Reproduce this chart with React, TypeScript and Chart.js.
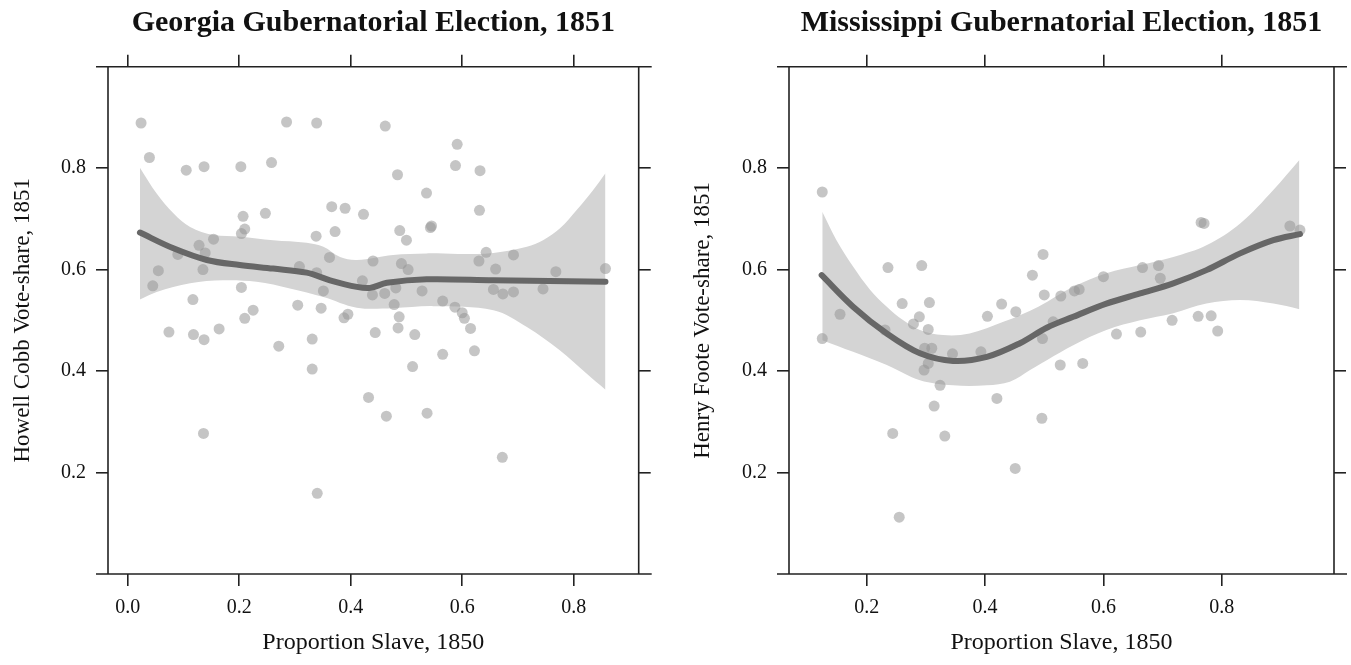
import React, { useEffect, useRef } from "react";
import { Chart, registerables } from "chart.js";

Chart.register(...registerables);

// ---------- Georgia data ----------
const gaTitle = "Georgia Gubernatorial Election, 1851";
const gaYLabel = "Howell Cobb Vote-share, 1851";
const gaX = [0.024,0.039,0.105,0.137,0.203,0.258,0.285,0.339,0.366,0.390,0.423,0.207,0.247,0.210,0.204,0.154,0.128,0.139,0.090,0.055,0.135,0.045,0.204,0.117,0.338,0.372,0.362,0.308,0.339,0.351,0.421,0.305,0.347,0.388,0.395,0.225,0.210,0.440,0.074,0.118,0.137,0.164,0.271,0.331,0.331,0.432,0.136,0.340,0.462,0.591,0.588,0.632,0.484,0.536,0.631,0.488,0.500,0.543,0.545,0.643,0.692,0.491,0.503,0.630,0.660,0.768,0.857,0.481,0.439,0.461,0.528,0.656,0.673,0.692,0.745,0.478,0.565,0.587,0.600,0.604,0.487,0.615,0.485,0.444,0.515,0.622,0.565,0.511,0.464,0.537,0.672];
const gaY = [0.889,0.821,0.796,0.803,0.803,0.811,0.891,0.889,0.724,0.721,0.709,0.705,0.711,0.680,0.671,0.660,0.648,0.633,0.630,0.598,0.600,0.568,0.565,0.541,0.666,0.675,0.624,0.606,0.594,0.558,0.578,0.530,0.524,0.505,0.512,0.520,0.504,0.617,0.477,0.472,0.462,0.483,0.449,0.463,0.404,0.348,0.277,0.159,0.883,0.847,0.805,0.795,0.787,0.751,0.717,0.677,0.658,0.683,0.686,0.634,0.629,0.612,0.600,0.617,0.601,0.596,0.602,0.564,0.550,0.553,0.558,0.561,0.552,0.556,0.562,0.531,0.538,0.526,0.515,0.504,0.507,0.484,0.485,0.476,0.472,0.440,0.433,0.409,0.311,0.317,0.230];
const gaFitX = [0.022,0.082,0.142,0.201,0.261,0.321,0.363,0.411,0.435,0.465,0.536,0.656,0.857];
const gaFitY = [0.673,0.642,0.619,0.609,0.602,0.594,0.579,0.566,0.564,0.574,0.581,0.579,0.576];
const gaUpX = [0.022,0.052,0.082,0.112,0.154,0.201,0.261,0.321,0.351,0.381,0.411,0.476,0.536,0.596,0.656,0.716,0.745,0.775,0.805,0.835,0.857];
const gaUpY = [0.801,0.750,0.711,0.684,0.668,0.665,0.658,0.653,0.645,0.625,0.619,0.629,0.632,0.631,0.633,0.645,0.658,0.681,0.717,0.757,0.790];
const gaLoX = [0.022,0.052,0.112,0.171,0.231,0.291,0.351,0.411,0.476,0.548,0.656,0.716,0.775,0.823,0.857];
const gaLoY = [0.541,0.556,0.573,0.579,0.576,0.563,0.546,0.525,0.524,0.528,0.520,0.487,0.441,0.395,0.363];
const gaXTicks = [0.0, 0.2, 0.4, 0.6, 0.8];
const gaXMin = -0.0353;
const gaXMax = 0.9166;

// ---------- Mississippi data ----------
const msTitle = "Mississippi Gubernatorial Election, 1851";
const msYLabel = "Henry Foote Vote-share, 1851";
const msX = [0.125,0.125,0.155,0.236,0.293,0.260,0.306,0.289,0.279,0.231,0.304,0.298,0.310,0.304,0.297,0.345,0.393,0.324,0.314,0.420,0.244,0.332,0.451,0.404,0.428,0.452,0.480,0.498,0.500,0.497,0.496,0.255,0.515,0.528,0.551,0.559,0.600,0.666,0.693,0.696,0.765,0.770,0.915,0.932,0.527,0.565,0.622,0.663,0.716,0.760,0.782,0.793];
const msY = [0.753,0.464,0.512,0.604,0.608,0.533,0.535,0.507,0.493,0.481,0.482,0.445,0.445,0.415,0.402,0.434,0.438,0.372,0.331,0.346,0.277,0.272,0.208,0.508,0.532,0.517,0.589,0.630,0.550,0.464,0.307,0.112,0.497,0.548,0.558,0.561,0.586,0.604,0.608,0.583,0.693,0.691,0.686,0.678,0.412,0.415,0.473,0.477,0.500,0.508,0.509,0.479];
const msFitX = [0.124,0.177,0.234,0.290,0.346,0.403,0.459,0.505,0.549,0.605,0.662,0.718,0.774,0.831,0.887,0.932];
const msFitY = [0.589,0.527,0.474,0.435,0.420,0.428,0.455,0.486,0.507,0.533,0.553,0.573,0.599,0.632,0.658,0.670];
const msUpX = [0.125,0.149,0.177,0.206,0.234,0.262,0.290,0.329,0.374,0.431,0.490,0.549,0.605,0.662,0.718,0.774,0.831,0.887,0.931];
const msUpY = [0.714,0.658,0.606,0.560,0.527,0.500,0.481,0.471,0.474,0.497,0.527,0.566,0.593,0.609,0.625,0.648,0.691,0.757,0.816];
const msLoX = [0.125,0.177,0.234,0.290,0.346,0.403,0.442,0.476,0.505,0.549,0.605,0.662,0.718,0.774,0.831,0.887,0.931];
const msLoY = [0.461,0.438,0.412,0.382,0.372,0.372,0.379,0.402,0.422,0.451,0.481,0.500,0.514,0.533,0.540,0.533,0.522];
const msXTicks = [0.2, 0.4, 0.6, 0.8];
const msXMin = 0.0688;
const msXMax = 0.9895;

const xLabel = "Proportion Slave, 1850";
const yTicks = [0.2, 0.4, 0.6, 0.8];
const yMin = 0;
const yMax = 1;

const FONT = "'Liberation Serif', 'Times New Roman', serif";
const zip = (xs: number[], ys: number[]) => xs.map((x, i) => ({ x, y: ys[i] }));

const framePlugin = {
  id: "frame",
  afterDraw(chart: any) {
    const { ctx, chartArea } = chart;
    const { left, right, top, bottom } = chartArea;
    ctx.save();
    ctx.strokeStyle = "#222";
    ctx.lineWidth = 1.6;
    ctx.beginPath();
    ctx.moveTo(left - 12, top);
    ctx.lineTo(right + 13, top);
    ctx.moveTo(left - 12, bottom);
    ctx.lineTo(right + 13, bottom);
    ctx.moveTo(left, top);
    ctx.lineTo(left, bottom);
    ctx.moveTo(right, top);
    ctx.lineTo(right, bottom);
    ctx.stroke();
    ctx.restore();
  },
};

type PanelProps = {
  title: string;
  yLabel: string;
  xs: number[];
  ys: number[];
  fitX: number[];
  fitY: number[];
  upX: number[];
  upY: number[];
  loX: number[];
  loY: number[];
  xTicks: number[];
  xMin: number;
  xMax: number;
  width: number;
  leftW: number;
  rightW: number;
};

function Panel(p: PanelProps) {
  const ref = useRef<HTMLCanvasElement | null>(null);
  useEffect(() => {
    if (!ref.current) return;
    const setTicks = (vals: number[]) => (scale: any) => {
      scale.ticks = vals.map((v) => ({ value: v }));
    };
    const gridOpts = {
      display: true,
      drawOnChartArea: false,
      drawTicks: true,
      tickLength: 12,
      color: "#222",
      lineWidth: 1.6,
    };
    const chart = new Chart(ref.current, {
      type: "scatter",
      data: {
        datasets: [
          {
            type: "line",
            label: "fit",
            data: zip(p.fitX, p.fitY),
            borderColor: "#676767",
            borderWidth: 6,
            borderCapStyle: "round",
            pointRadius: 0,
            tension: 0.35,
            fill: false,
            order: 0,
          } as any,
          {
            type: "scatter",
            label: "points",
            data: zip(p.xs, p.ys),
            backgroundColor: "rgba(150,150,150,0.55)",
            borderWidth: 0,
            pointRadius: 5.5,
            order: 1,
          },
          {
            type: "line",
            label: "upper",
            data: zip(p.upX, p.upY),
            borderWidth: 0,
            borderColor: "rgba(0,0,0,0)",
            backgroundColor: "#d4d4d4",
            pointRadius: 0,
            tension: 0.35,
            fill: 3,
            order: 2,
          } as any,
          {
            type: "line",
            label: "lower",
            data: zip(p.loX, p.loY),
            borderWidth: 0,
            borderColor: "rgba(0,0,0,0)",
            pointRadius: 0,
            tension: 0.35,
            fill: false,
            order: 3,
          } as any,
        ],
      },
      plugins: [framePlugin],
      options: {
        animation: false,
        responsive: false,
        events: [],
        layout: { padding: 0 },
        plugins: {
          legend: { display: false },
          tooltip: { enabled: false },
          title: {
            display: true,
            text: p.title,
            fullSize: false,
            color: "#111",
            font: { family: FONT, size: 30, weight: "bold", lineHeight: 1.2 },
            padding: { top: 5, bottom: 13.7 },
          },
        },
        scales: {
          x: {
            type: "linear",
            position: "bottom",
            min: p.xMin,
            max: p.xMax,
            afterBuildTicks: setTicks(p.xTicks),
            afterFit: (s: any) => {
              s.height = 91;
            },
            grid: gridOpts,
            border: { display: false },
            ticks: {
              color: "#111",
              padding: 10,
              maxRotation: 0,
              font: { family: FONT, size: 20 },
              callback: (v: any) => Number(v).toFixed(1),
            },
            title: {
              display: true,
              text: xLabel,
              color: "#111",
              font: { family: FONT, size: 24 },
              padding: { top: 0, bottom: 8 },
            },
          },
          xTop: {
            type: "linear",
            position: "top",
            min: p.xMin,
            max: p.xMax,
            afterBuildTicks: setTicks(p.xTicks),
            afterFit: (s: any) => {
              s.height = 12;
            },
            grid: gridOpts,
            border: { display: false },
            ticks: { color: "rgba(0,0,0,0)", padding: 0, font: { size: 1 } },
          },
          y: {
            type: "linear",
            position: "left",
            min: yMin,
            max: yMax,
            afterBuildTicks: setTicks(yTicks),
            afterFit: (s: any) => {
              s.width = p.leftW;
            },
            grid: gridOpts,
            border: { display: false },
            ticks: {
              color: "#111",
              padding: 10,
              font: { family: FONT, size: 20 },
              callback: (v: any) => Number(v).toFixed(1),
            },
            title: {
              display: true,
              text: p.yLabel,
              color: "#111",
              font: { family: FONT, size: 23 },
              padding: { top: 9, bottom: 0 },
            },
          },
          yRight: {
            type: "linear",
            position: "right",
            min: yMin,
            max: yMax,
            afterBuildTicks: setTicks(yTicks),
            afterFit: (s: any) => {
              s.width = p.rightW;
            },
            grid: gridOpts,
            border: { display: false },
            ticks: { color: "rgba(0,0,0,0)", padding: 0, font: { size: 1 } },
          },
        },
      } as any,
    });
    return () => chart.destroy();
  }, []);
  return (
    <canvas
      ref={ref}
      width={p.width}
      height={665}
      style={{ display: "block", width: p.width, height: 665 }}
    />
  );
}

export default function App() {
  return (
    <div
      style={{
        position: "absolute",
        left: 0,
        top: 0,
        width: 1351,
        height: 665,
        display: "flex",
        background: "#fff",
      }}
    >
      <Panel
        title={gaTitle}
        yLabel={gaYLabel}
        xs={gaX}
        ys={gaY}
        fitX={gaFitX}
        fitY={gaFitY}
        upX={gaUpX}
        upY={gaUpY}
        loX={gaLoX}
        loY={gaLoY}
        xTicks={gaXTicks}
        xMin={gaXMin}
        xMax={gaXMax}
        width={680}
        leftW={108}
        rightW={41.3}
      />
      <Panel
        title={msTitle}
        yLabel={msYLabel}
        xs={msX}
        ys={msY}
        fitX={msFitX}
        fitY={msFitY}
        upX={msUpX}
        upY={msUpY}
        loX={msLoX}
        loY={msLoY}
        xTicks={msXTicks}
        xMin={msXMin}
        xMax={msXMax}
        width={671}
        leftW={109}
        rightW={17}
      />
    </div>
  );
}
